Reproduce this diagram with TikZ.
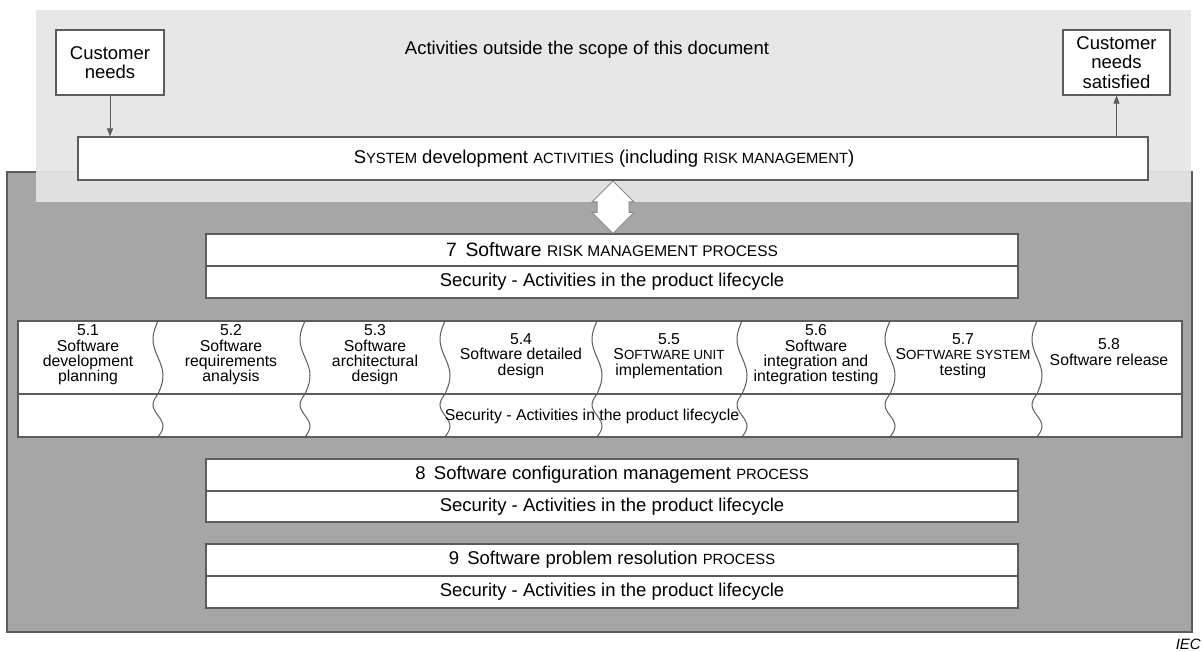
\documentclass[tikz,border=0pt]{standalone}
\usepackage{fontspec}
\setmainfont{Liberation Sans}
\usepackage{graphicx}
\usetikzlibrary{arrows.meta,calc}

% faked small capitals (the font has no smcp feature)
\newcommand\smc[2][0.8]{\scalebox{#1}{\MakeUppercase{#2}}}

\definecolor{outerfill}{gray}{0.902}
\definecolor{innerfill}{HTML}{A6A6A6}
\definecolor{edge}{HTML}{5C5C5C}
\definecolor{arrowedge}{HTML}{8A8A8A}

\begin{document}
\begin{tikzpicture}[x=1pt,y=-1pt,
  font=\fontsize{18.5}{19.5}\selectfont,
  box/.style={draw=edge, line width=1.1pt, fill=white, inner sep=0pt, align=center},
  rowbox/.style={box, minimum width=812, minimum height=32},
  tabtext/.style={font=\fontsize{15.8}{15.4}\selectfont, align=center, inner sep=0pt},
  flow/.style={draw=edge, line width=1pt, -{Triangle[length=8pt,width=6pt]}},
  wave/.style={draw=edge, line width=1pt}
]
\useasboundingbox (0,0) rectangle (1203,652);
\fill[white] (0,0) rectangle (1203,652);

% software domain and the surrounding system domain
\draw[edge, fill=innerfill, line width=1.1pt] (7,172) rectangle (1192,632);
\fill[outerfill, opacity=0.92] (36,10) rectangle (1191,202);

\node (scope) at (587,50) {Activities outside the scope of this document};

\node[box, minimum width=108, minimum height=65] (cn) at (110,62.5) {Customer\\needs};
\node[box, minimum width=107, minimum height=65] (cs) at (1116.5,62.5) {Customer\\needs\\satisfied};
\node[box, minimum width=1070, minimum height=43] (sys) at (613,158.5) {};
\node[inner sep=0pt] (systext) at ($(sys.center)+(-9,0)$)
  {S\smc{ystem} development \smc{activities} (including \smc{risk management})};

\draw[flow] (cn.south) -- (cn.south |- sys.north);
\draw[flow] (sys.north -| cs.south) -- (cs.south);

% process 7
\node[rowbox, font=\fontsize{19.3}{20}\selectfont] (r7a) at (612,250) {7\hspace{0.45em}Software \smc{risk management process}};
\node[rowbox] (r7b) at (612,282) {Security - Activities in the product lifecycle};

% exchange between system and software levels
\draw[draw=arrowedge, fill=white, line width=1pt, line join=miter]
  (613,181) -- (592,202) -- (597,202) -- (597,212.5) -- (592,212.5) -- (613,233.5)
  -- (634,212.5) -- (629,212.5) -- (629,202) -- (634,202) -- cycle;

% development activities table
\draw[edge, fill=white, line width=1.1pt] (18,321) rectangle (1182,437);
\draw[edge, line width=1.1pt] (18,394) -- (1182,394);
\foreach \sx in {158,305,445,597,742,890,1037} {
  \draw[wave] plot[smooth, domain=0:1, samples=25, variable=\t] ({\sx-5*sin(360*\t)}, {321+73*\t});
  \draw[wave] plot[smooth, domain=0:1, samples=17, variable=\t] ({\sx-5*sin(360*\t)}, {394+43*\t});
}
\node[tabtext] (a51) at (88,355) {5.1\\Software\\development\\planning};
\node[tabtext] (a52) at (231,355) {5.2\\Software\\requirements\\analysis};
\node[tabtext] (a53) at (375,355) {5.3\\Software\\architectural\\design};
\node[tabtext] (a54) at (521,356) {5.4\\Software detailed\\design};
\node[tabtext] (a55) at (669,356) {5.5\\S\smc[0.84]{oftware unit}\\implementation};
\node[tabtext] (a56) at (816,355) {5.6\\Software\\integration and\\integration testing};
\node[tabtext] (a57) at (963,356) {5.7\\S\smc[0.84]{oftware system}\\testing};
\node[tabtext] (a58) at (1109,352) {5.8\\Software release};
\node[tabtext] (asec) at (592,416) {Security - Activities in the product lifecycle};

% process 8
\node[rowbox] (r8a) at (612,475) {8\hspace{0.45em}Software configuration management \smc{process}};
\node[rowbox, minimum height=31] (r8b) at (612,506.5) {Security - Activities in the product lifecycle};

% process 9
\node[rowbox] (r9a) at (612,560) {9\hspace{0.45em}Software problem resolution \smc{process}};
\node[rowbox] (r9b) at (612,592) {Security - Activities in the product lifecycle};

\node[anchor=base east, inner sep=0pt, font=\fontsize{15}{15}\selectfont\itshape] (iec) at (1201,649.5) {IEC};
\end{tikzpicture}
\end{document}
